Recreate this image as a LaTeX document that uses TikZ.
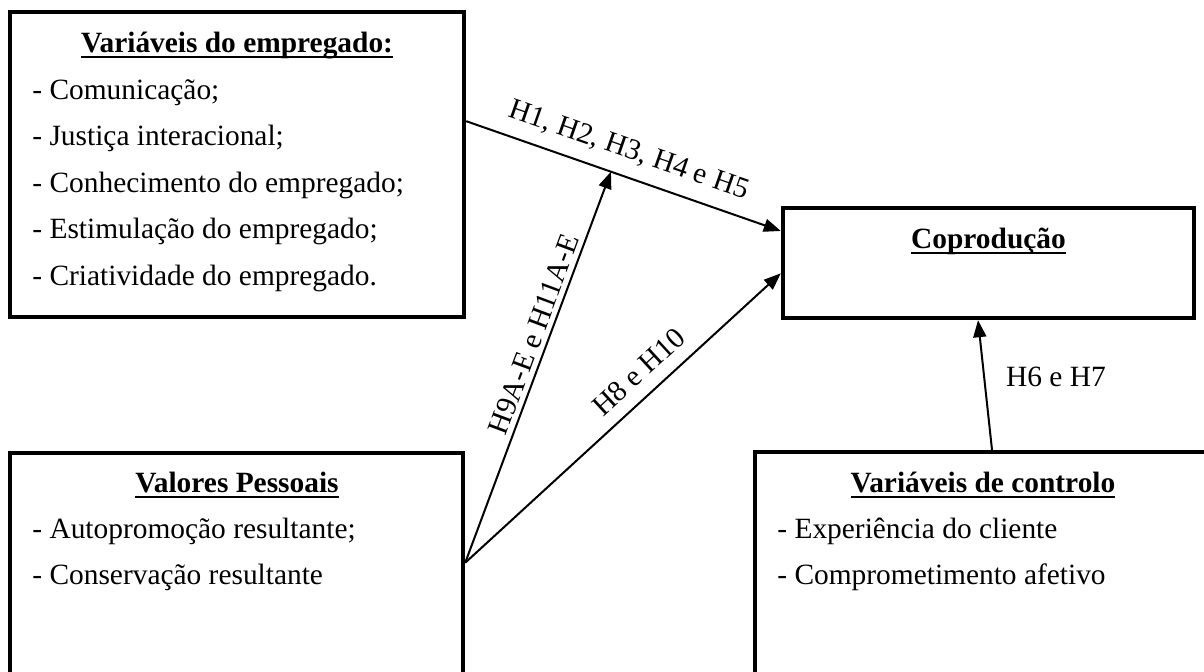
\documentclass[tikz,border=0pt]{standalone}
\usepackage{fontspec}
\setmainfont{Liberation Serif}
\usetikzlibrary{
   arrows.meta,
   calc,
   positioning
}
% underline that cuts through descenders
\newcommand{\uln}[1]{\setbox0\hbox{#1}\rlap{\rule[-3pt]{\wd0}{1.2pt}}\box0}

\begin{document}
\begin{tikzpicture}[
    x=0.5pt, y=-0.5pt,
    box/.style={rectangle, draw, line width=2.2pt, inner sep=0pt},
    title/.style={font=\fontsize{14.7}{18}\selectfont\bfseries, anchor=base, inner sep=0pt},
    item/.style={font=\fontsize{14.7}{18}\selectfont, anchor=base west, inner sep=0pt},
    hyp/.style={font=\fontsize{14.7}{18}\selectfont},
    arrow/.style={-{Triangle[length=8.5pt,width=6.5pt]}, line width=1pt}
]
\useasboundingbox (0,0) rectangle (1204,671);
\clip (0,0) rectangle (1204,671);

\node[box, minimum width=227pt, minimum height=152.5pt] (emp) at (237,164.5) {};
\node[box, minimum width=205.5pt, minimum height=55pt] (cop) at (988.5,263) {};
\node[box, minimum width=226.5pt, minimum height=125pt] (val) at (236.5,578) {};
\node[box, minimum width=240pt, minimum height=125pt] (ctl) at (995,577) {};

\node[title] (empT) at (237,52) {\uln{Variáveis do empregado:}};
\node[item] (emp1) at (32,99) {- Comunicação;};
\node[item] (emp2) at ([yshift=-23.25pt]emp1.base west) {- Justiça interacional;};
\node[item] (emp3) at ([yshift=-23.25pt]emp2.base west) {- Conhecimento do empregado;};
\node[item] (emp4) at ([yshift=-23.25pt]emp3.base west) {- Estimulação do empregado;};
\node[item] (emp5) at ([yshift=-23.25pt]emp4.base west) {- Criatividade do empregado.};

\node[title] (copT) at (988.5,248) {\uln{Coprodução}};

\node[title] (valT) at (237,492) {\uln{Valores Pessoais}};
\node[item] (val1) at (32,538) {- Autopromoção resultante;};
\node[item] (val2) at ([yshift=-23.25pt]val1.base west) {- Conservação resultante};

\node[title] (ctlT) at (983,492) {\uln{Variáveis de controlo}};
\node[item] (ctl1) at (777,538) {- Experiência do cliente};
\node[item] (ctl2) at ([yshift=-23.25pt]ctl1.base west) {- Comprometimento afetivo};

\coordinate (e1) at ($(emp.north east)!0.36!(emp.south east)$);
\coordinate (c1) at ($(cop.north west)!0.22!(cop.south west)$);
\coordinate (c2) at ($(cop.north west)!0.59!(cop.south west)$);
\coordinate (v1) at ($(val.north east)!0.44!(val.south east)$);
\coordinate (mid) at ($(e1)!0.46!(c1)$);

\draw[arrow] (e1) -- node[hyp, sloped, above=3pt, pos=0.49] (h1) {H1, H2, H3, H4 e H5} (c1);
\draw[arrow] (v1) -- node[hyp, sloped, above=-1pt, pos=0.57] (h9) {H9A-E e H11A-E} (mid);
\draw[arrow] (v1) -- node[hyp, sloped, above=3pt, pos=0.60] (h8) {H8 e H10} (c2);
\draw[arrow] ([xshift=-1.5pt]ctl.north) -- ([xshift=-5.25pt]cop.south);
\node[hyp] (h6) at (1056,377) {H6 e H7};

\end{tikzpicture}
\end{document}
